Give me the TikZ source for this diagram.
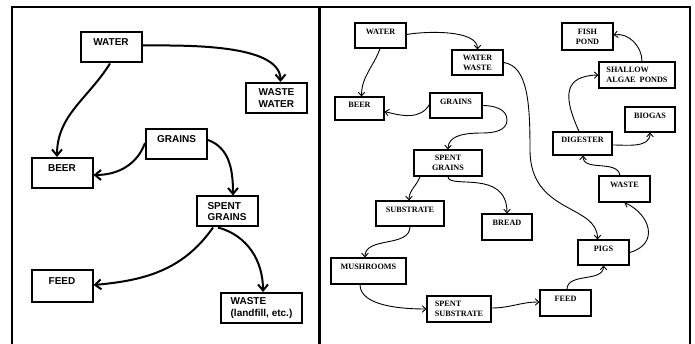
\documentclass[tikz,border=0pt]{standalone}
\usepackage{fontspec}
\newfontfamily\arialfont{Liberation Sans}
\newfontfamily\timesfont{Liberation Serif}
\usepackage{tikz}
\usetikzlibrary{arrows.meta}

\begin{document}
\begin{tikzpicture}[x=1pt,y=1pt]

\tikzstyle{leftBox} = [draw, line width=2pt, rectangle, minimum width=61pt, minimum height=30pt, inner sep=2pt, node distance=50pt, align=left, font={\arialfont\bfseries\fontsize{10}{11.5}\selectfont}];
\tikzstyle{rightBox} = [draw, line width=1.2pt, rectangle, minimum width=51pt, minimum height=25pt, inner sep=2pt, node distance=50pt, align=center, font={\timesfont\bfseries\fontsize{8.2}{10}\selectfont}];
\tikzstyle{liftL} = [text height=7pt, text depth=10pt];
\tikzstyle{liftR} = [text height=6pt, text depth=8.7pt];
\tikzstyle{leftEdge} = [line width=2pt, -{Straight Barb[length=6pt,width=10pt]}];
\tikzstyle{rightEdge} = [line width=0.9pt, -{Straight Barb[length=3.5pt,width=6.5pt]}];

\useasboundingbox (0,0) rectangle (695,344);

% frame
\draw[line width=2pt] (12,0) -- (12,337) -- (690,337) -- (690,0);
\draw[line width=3pt] (319,0) -- (319,337);

% brewery alone
\node[leftBox, liftL, name=water] at (111,296.5) {WATER};
\node[leftBox, name=wasteWater, right of=water, xshift=115.5pt, yshift=-50.5pt] {WASTE\\WATER};
\node[leftBox, liftL, name=grains, below of=water, xshift=65.5pt, yshift=-46.5pt] {GRAINS};
\node[leftBox, liftL, name=beer, left of=grains, xshift=-64.5pt, yshift=-29pt] {BEER};
\node[leftBox, name=spentGrains, below of=grains, xshift=50.5pt, yshift=-17.5pt] {SPENT\\GRAINS};
\node[leftBox, liftL, name=feed, below of=beer, yshift=-63pt, minimum height=32pt] {FEED};
\node[leftBox, name=waste, below of=spentGrains, xshift=34.5pt, yshift=-46.5pt, minimum width=81pt] {WASTE\\(landfill, etc.)};

\draw ([yshift=2pt]water.east) edge[leftEdge, out=0, in=90, looseness=0.7] ([xshift=4pt]wasteWater.north);
\draw ([xshift=-1pt]water.south) edge[leftEdge, out=-122, in=90] ([xshift=-5pt]beer.north);
\draw ([yshift=1pt]grains.west) edge[leftEdge, out=-110, in=0] ([yshift=-2pt]beer.east);
\draw ([yshift=4pt]grains.east) edge[leftEdge, out=-20, in=90] ([xshift=6pt]spentGrains.north);
\draw ([xshift=-14pt]spentGrains.south) edge[leftEdge, out=-125, in=5] ([yshift=1pt]feed.east);
\draw ([xshift=-9pt]spentGrains.south) edge[leftEdge, out=-15, in=90] ([xshift=1.5pt]waste.north);

% integrated system
\node[rightBox, liftR, name=ecoWater] at (380.5,308.5) {WATER};
\node[rightBox, name=ecoWaterWaste, right of=ecoWater, xshift=47pt, yshift=-27pt] {WATER\\WASTE};
\node[rightBox, liftR, name=ecoBeer, below of=ecoWater, xshift=-21pt, yshift=-23pt, minimum width=49pt, minimum height=23pt] {BEER};
\node[rightBox, liftR, name=ecoGrains, right of=ecoBeer, xshift=46.5pt, yshift=3pt, minimum width=52pt] {GRAINS};
\node[rightBox, name=ecoSpent, below of=ecoGrains, xshift=-8pt, yshift=-7.5pt, minimum width=68pt, minimum height=26pt] {SPENT\\GRAINS};
\node[rightBox, liftR, name=ecoSubstrate, below of=ecoSpent, xshift=-38pt, yshift=-0.5pt, minimum width=68pt] {SUBSTRATE};
\node[rightBox, liftR, name=ecoBread, right of=ecoSubstrate, xshift=47pt, yshift=-13.5pt, minimum width=50pt, minimum height=26pt] {BREAD};
\node[rightBox, liftR, name=ecoMush, below of=ecoSubstrate, xshift=-41.5pt, yshift=-7.5pt, minimum width=75pt, minimum height=26pt] {MUSHROOMS};
\node[rightBox, name=ecoSpentSub, below of=ecoMush, xshift=90.5pt, yshift=12pt, minimum width=64pt, minimum height=26pt, align=left] {SPENT\\SUBSTRATE};
\node[rightBox, liftR, name=ecoFeed, right of=ecoSpentSub, xshift=56.5pt, yshift=6pt, minimum height=26pt] {FEED};
\node[rightBox, liftR, name=ecoPigs, above of=ecoFeed, xshift=38pt, yshift=0.5pt] {PIGS};
\node[rightBox, liftR, name=ecoWaste, above of=ecoPigs, xshift=21pt, yshift=13.5pt, minimum height=26pt] {WASTE};
\node[rightBox, liftR, name=ecoDigester, above of=ecoWaste, xshift=-42pt, yshift=-4.5pt, minimum width=59pt, minimum height=23pt] {DIGESTER};
\node[rightBox, liftR, name=ecoBiogas, right of=ecoDigester, xshift=17.5pt, yshift=24pt, minimum width=50pt] {BIOGAS};
\node[rightBox, name=ecoAlgae, above of=ecoDigester, xshift=54.5pt, yshift=18.5pt, minimum width=76pt, minimum height=26pt, align=left] {SHALLOW\\ALGAE\ \ PONDS};
\node[rightBox, name=ecoFish, above of=ecoAlgae, xshift=-49.5pt, yshift=-11.5pt, minimum height=27pt] {FISH\\POND};

\draw ([yshift=1pt]ecoWater.east) edge[rightEdge, out=10, in=90, looseness=0.7] (ecoWaterWaste.north);
\draw ([xshift=-0.5pt]ecoWater.south) edge[rightEdge, out=-110, in=90] ([xshift=2pt]ecoBeer.north);
\draw ([yshift=1pt]ecoGrains.west) edge[rightEdge, out=-120, in=-15] ([yshift=-3pt]ecoBeer.east);
\draw[rightEdge] (ecoGrains.east) to[out=0, in=90] (507,224) to[out=-90, in=0] (483,211) to[out=180, in=90] (ecoSpent.north);
\draw[rightEdge] (ecoWaterWaste.east) .. controls (528,278) and (530,240) .. (530,194) .. controls (530,130) and (597.5,140) .. ([xshift=-6pt]ecoPigs.north);
\draw ([xshift=-28pt]ecoSpent.south) edge[rightEdge, out=-110, in=90] ([xshift=-1pt]ecoSubstrate.north);
\draw[rightEdge] (ecoSpent.south) .. controls +(0,-13) and +(0,45) .. (ecoBread.north);
\draw (ecoSubstrate.south) edge[rightEdge, out=-90, in=90] ([xshift=-3.5pt]ecoMush.north);
\draw ([xshift=-8.5pt]ecoMush.south) edge[rightEdge, out=-90, in=180, looseness=0.8] (ecoSpentSub.west);
\draw ([yshift=1pt]ecoSpentSub.east) edge[rightEdge, out=0, in=180] ([yshift=1pt]ecoFeed.west);
\draw ([xshift=1.5pt]ecoFeed.north) edge[rightEdge, out=90, in=-90] (ecoPigs.south);
\draw[rightEdge] (ecoPigs.east) .. controls (660,100) and (650,130) .. (ecoWaste.south);
\draw ([xshift=-4.5pt]ecoWaste.north) edge[rightEdge, out=100, in=-90] ([xshift=0.5pt]ecoDigester.south);
\draw ([yshift=-1.5pt]ecoDigester.east) edge[rightEdge, out=0, in=-90] (ecoBiogas.south);
\draw[rightEdge] ([xshift=-3.5pt]ecoDigester.north) .. controls (562,250) and (565,268) .. (ecoAlgae.west);
\draw ([xshift=5pt]ecoAlgae.north) edge[rightEdge, out=90, in=10] ([yshift=1.5pt]ecoFish.east);
\end{tikzpicture}
\end{document}
